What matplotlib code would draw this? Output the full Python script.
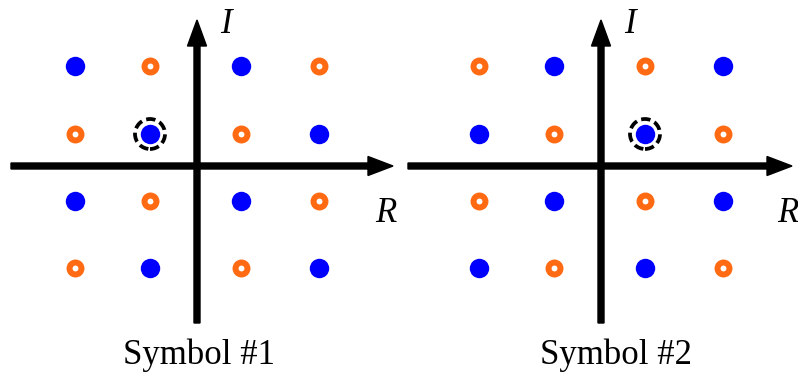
import matplotlib
matplotlib.use("Agg")
import matplotlib.pyplot as plt
from matplotlib.patches import Circle

# ---- data (offsets in px from each panel's origin) ----
R_levels = [-122, -47, 44, 122]
I_levels = [100, 32, -35, -102]
# constellation colouring, rows top->bottom, cols left->right ('B' blue dot, 'O' orange ring)
pattern_1 = ["BOBO", "OBOB", "BOBO", "OBOB"]
pattern_2 = ["OBOB", "BOBO", "OBOB", "BOBO"]
highlight_1 = (1, 1)   # (row, col) of circled point
highlight_2 = (1, 2)
titles = ["Symbol #1", "Symbol #2"]
axis_label_R = "R"
axis_label_I = "I"

BLUE = "#0000ff"
ORANGE = "#ff6a13"
SERIF = ["Liberation Serif", "DejaVu Serif"]

fig = plt.figure(figsize=(7.98, 3.72), dpi=100)

panels = [
    dict(pattern=pattern_1, hl=highlight_1, title=titles[0], rect=[0, 0, 0.5, 1],
         xlim=(-197, 202), haxis=(-186, 196), title_x=2, R_x=189),
    dict(pattern=pattern_2, hl=highlight_2, title=titles[1], rect=[0.5, 0, 0.5, 1],
         xlim=(-202, 197), haxis=(-193, 191), title_x=15, R_x=187),
]

for p in panels:
    ax = fig.add_axes(p["rect"])
    ax.set_xlim(*p["xlim"])
    ax.set_ylim(-206, 166)
    ax.axis("off")

    # axes arrows
    h0, h1 = p["haxis"]
    ax.arrow(h0, 0, h1 - h0, 0, width=6, head_width=19, head_length=25,
             length_includes_head=True, color="black", zorder=1)
    ax.arrow(0, -157, 0, 146 + 157, width=6, head_width=19, head_length=26,
             length_includes_head=True, color="black", zorder=1)

    bx, by, ox, oy = [], [], [], []
    for ri, row in enumerate(p["pattern"]):
        for ci, c in enumerate(row):
            if c == "B":
                bx.append(R_levels[ci]); by.append(I_levels[ri])
            else:
                ox.append(R_levels[ci]); oy.append(I_levels[ri])
    ax.plot(bx, by, "o", color=BLUE, markersize=14.0, markeredgewidth=0, zorder=3)
    ax.plot(ox, oy, "o", markerfacecolor="white", markeredgecolor=ORANGE,
            markersize=8.6, markeredgewidth=4.3, zorder=3)

    hr, hc = p["hl"]
    circ = Circle((R_levels[hc], I_levels[hr]), 15, fill=False, edgecolor="black",
                  linewidth=2.7, linestyle=(0, (2.5, 1.2)), zorder=4)
    ax.add_patch(circ)

    ax.text(29, 133, axis_label_I, fontsize=25, fontstyle="italic", family=SERIF,
            ha="center", va="baseline")
    ax.text(p["R_x"], -56, axis_label_R, fontsize=25, fontstyle="italic", family=SERIF,
            ha="center", va="baseline")
    ax.text(p["title_x"], -198, p["title"], fontsize=25, family=SERIF,
            ha="center", va="baseline")

fig.savefig("out.png", dpi=100)
